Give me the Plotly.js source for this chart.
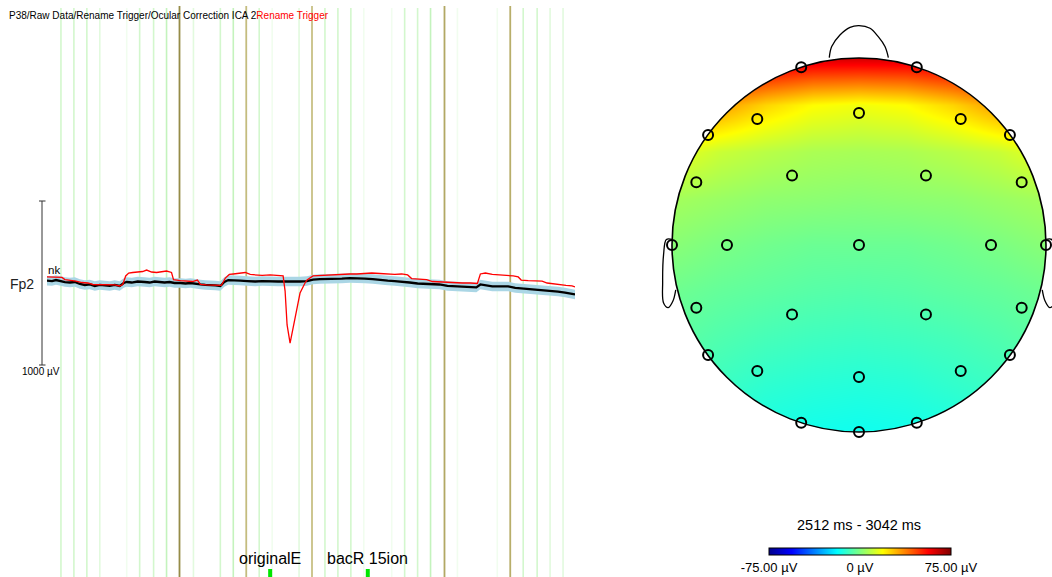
<!DOCTYPE html>
<html><head><meta charset="utf-8">
<script src="https://cdn.plot.ly/plotly-3.0.1.min.js"></script>
<style>html,body{margin:0;padding:0;background:#fff;overflow:hidden}#chart{width:1052px;height:577px}</style>
</head><body><div id="chart"></div>
<script>
// ---------- EEG segment (channel Fp2), time in ms, amplitude in µV ----------
const timeAvg = [2512,2517,2521,2525,2530,2535,2540,2545,2550,2555,2560,2565,2570,2575,2580,2585,2589,2592,2597,2603,2610,2615,2620,2625,2630,2635,2640,2646,2651,2656,2661,2666,2671,2676,2681,2686,2690,2694,2699,2706,2713,2721,2728,2736,2744,2751,2758,2766,2773,2779,2786,2793,2801,2808,2816,2823,2831,2839,2846,2854,2861,2868,2876,2884,2891,2899,2906,2914,2922,2929,2937,2943,2947,2952,2959,2967,2975,2982,2989,2997,3005,3012,3019,3025,3032,3037,3042];
const fp2Average = [14,12,18,12,6,3,6,-6,-12,-9,-18,-12,-15,-18,-12,-18,0,6,3,9,6,3,9,6,3,6,0,0,-3,0,-6,-9,-12,-12,-15,-18,6,18,18,15,12,9,12,9,9,9,7,9,12,21,24,24,27,27,30,30,27,24,18,15,12,9,3,-3,-6,-6,-9,-18,-21,-24,-27,-27,-9,-15,-21,-21,-21,-30,-33,-37,-40,-43,-49,-52,-58,-64,-70];
const fp2StdBand = 29;
const timeRed = [2512,2520,2527,2530,2537,2541,2547,2553,2558,2565,2573,2580,2585,2588,2591,2594,2598,2603,2608,2612,2617,2622,2627,2632,2637,2639,2646,2652,2658,2663,2666,2672,2678,2684,2687,2691,2695,2699,2706,2711,2716,2722,2728,2736,2743,2749,2751,2753,2756,2759,2763,2766,2771,2773,2779,2786,2793,2801,2808,2816,2823,2831,2838,2846,2854,2861,2868,2874,2878,2886,2893,2899,2906,2914,2922,2929,2937,2944,2947,2952,2959,2967,2974,2980,2985,2988,2995,3002,3009,3014,3020,3027,3033,3039,3042];
const fp2Trigger = [37,37,34,21,18,12,3,0,-9,-9,-12,-12,-18,-9,43,61,64,67,70,79,67,64,67,73,64,21,15,12,9,18,-9,-12,-15,-18,-15,30,52,55,61,64,52,49,46,49,46,43,-49,-256,-366,-275,-153,-61,0,18,43,46,46,49,52,55,55,58,61,58,55,52,55,49,27,24,21,9,6,3,0,0,0,-3,55,61,52,49,43,43,37,18,15,12,12,0,-6,-9,-15,-18,-24];
const scaleBarUV = 1000;

// time markers (vertical lines)
const minorMarkerTimes = [2526,2539,2552,2565,2592,2605,2619,2632,2659,2686,2699,2725,2738,2765,2791,2804,2817,2830,2858,2871,2884,2897,2924,2964,2990,3004,3017,3030];
const minorMarkerLevel = [3,3,3,2,1,3,3,4,2,3,4,3,1,2,3,3,3,1,1,3,3,4,1,1,3,3,2,2];
const majorMarkerTimes = [2645,2712,2778,2911,2977];
const majorMarkerColors = ['rgb(150,140,72)','rgb(196,188,126)','rgb(200,192,132)','rgb(178,168,100)','rgb(184,174,106)'];
const eventTimes = [2736,2834];
const eventLabels = ['originalE','bacR 15ion'];

// ---------- Topographic map ----------
const elecNames = ['Fp1','Fp2','Fz','F3','F4','F7','F8','FC1','FC2','FC5','FC6','T7','C3','Cz','C4','T8','CP5','CP1','CP2','CP6','P7','P3','Pz','P4','P8','O1','Oz','O2'];
const elecX = [-0.309,0.309,0,-0.544,0.544,-0.807,0.807,-0.358,0.358,-0.870,0.870,-1,-0.706,0,0.706,1,-0.870,-0.358,0.358,0.870,-0.807,-0.544,0,0.544,0.807,-0.309,0,0.309];
const elecY = [0.950,0.950,0.706,0.674,0.674,0.588,0.588,0.371,0.371,0.335,0.335,0,0,0,0,0,-0.335,-0.371,-0.371,-0.335,-0.588,-0.674,-0.706,-0.674,-0.588,-0.950,-1,-0.950];
const gridX = [-1,-0.75,-0.5,-0.25,0,0.25,0.5,0.75,1];
const gridY = [-1,-0.75,-0.5,-0.25,0,0.25,0.5,0.75,1];
const gridUV = [
  [-10,-13,-15,-16,-16.5,-16,-15,-13,-10.5],
  [-8,-10,-12,-13,-13.5,-13,-11.5,-10,-8],
  [-5,-7,-8.5,-9.5,-10,-9.5,-8.5,-7,-5],
  [-2.5,-4,-5,-6,-6.5,-6,-5,-4,-2.5],
  [1.5,-0.5,-2,-3,-3,-3,-2,-0.5,1.5],
  [5.5,4,2.5,2,1.5,2,2.5,4,5.5],
  [16,11,8.5,6.5,6,6.5,8.5,11,16],
  [46,34,25,19,17,19,25,34,46],
  [75,70,66,63,63,63,66,70,75]
];
const noseX = [-0.159,-0.146,-0.102,-0.048,0,0.059,0.103,0.139,0.157];
const noseY = [1.002,1.061,1.123,1.164,1.173,1.159,1.114,1.061,1.002];
const earX = [-0.998,-1.03,-1.045,-1.05,-1.045,-1.02,-0.995,-0.98];
const earY = [0.03,0.03,-0.05,-0.2,-0.31,-0.335,-0.30,-0.24];
const cbTickVals = [-75,0,75];
const cbTickText = ['-75.00 µV','0 µV','75.00 µV'];
const mapTitle = '2512 ms - 3042 ms';
const pathTitle = 'P38/Raw Data/Rename Trigger/Ocular Correction ICA 2';
const pathTitleRed = 'Rename Trigger';

// ---------- layout geometry ----------
const W = 1052, H = 577;
const FONT = 'Arial, "Liberation Sans", sans-serif';
const px = p => p / W;
const py = p => 1 - p / H;
const uvPerPx = scaleBarUV / 164;
const baseRow = 283;

const levelColor = {1:'rgb(241,253,239)',2:'rgb(226,250,222)',3:'rgb(211,247,205)',4:'rgb(196,243,189)'};

const shapes = [];
minorMarkerTimes.forEach((t,i) => shapes.push({type:'line',xref:'x',yref:'paper',x0:t,x1:t,y0:0,y1:py(8),layer:'below',line:{color:levelColor[minorMarkerLevel[i]],width:1.6}}));
majorMarkerTimes.forEach((t,i) => shapes.push({type:'line',xref:'x',yref:'paper',x0:t,x1:t,y0:0,y1:py(6),layer:'below',line:{color:majorMarkerColors[i],width:1.8}}));
eventTimes.forEach(t => shapes.push({type:'rect',xref:'x',yref:'paper',x0:t-2,x1:t+2,y0:0,y1:py(569),fillcolor:'rgb(0,230,0)',line:{width:0},layer:'above'}));
// scale bar
shapes.push({type:'line',xref:'paper',yref:'y',x0:px(42),x1:px(42),y0:-scaleBarUV/2,y1:scaleBarUV/2,line:{color:'#333',width:1}});
shapes.push({type:'line',xref:'paper',yref:'y',x0:px(39),x1:px(45.5),y0:scaleBarUV/2,y1:scaleBarUV/2,line:{color:'#333',width:1}});
shapes.push({type:'line',xref:'paper',yref:'y',x0:px(39),x1:px(45.5),y0:-scaleBarUV/2,y1:-scaleBarUV/2,line:{color:'#333',width:1}});
// head outline
shapes.push({type:'circle',xref:'x2',yref:'y2',x0:-1,x1:1,y0:-1,y1:1,line:{color:'#000',width:1.6},layer:'above'});

const upper = fp2Average.map(v => v + fp2StdBand);
const lower = fp2Average.map(v => v - fp2StdBand);

// mask outside the head
const maskX = [-1.4,1.2,1.2,-1.4,-1.4,null], maskY = [-1.9,-1.9,1.5,1.5,-1.9,null];
for (let i = 0; i <= 180; i++) { const a = -2*Math.PI*i/180; maskX.push(Math.cos(a)); maskY.push(Math.sin(a)); }

const traces = [
  {x:timeAvg,y:lower,type:'scatter',mode:'lines',line:{width:0},hoverinfo:'skip',xaxis:'x',yaxis:'y'},
  {x:timeAvg,y:upper,type:'scatter',mode:'lines',line:{width:0},fill:'tonexty',fillcolor:'rgb(170,214,229)',hoverinfo:'skip',xaxis:'x',yaxis:'y'},
  {x:timeAvg,y:fp2Average,type:'scatter',mode:'lines',line:{color:'#000',width:2.3},xaxis:'x',yaxis:'y'},
  {x:timeRed,y:fp2Trigger,type:'scatter',mode:'lines',line:{color:'#ff0000',width:1.3},xaxis:'x',yaxis:'y'},
  {x:gridX,y:gridY,z:gridUV,type:'heatmap',zsmooth:'best',zmin:-75,zmax:75,xaxis:'x2',yaxis:'y2',
   colorscale:[[0,'rgb(0,0,140)'],[0.125,'rgb(0,0,255)'],[0.375,'rgb(0,255,255)'],[0.625,'rgb(255,255,0)'],[0.875,'rgb(255,0,0)'],[1,'rgb(128,0,0)']],
   colorbar:{orientation:'h',x:px(860),xanchor:'center',y:py(547.5),yanchor:'top',yref:'paper',len:182,lenmode:'pixels',thickness:7,
     xpad:0,ypad:0,outlinewidth:1,outlinecolor:'#000',tickvals:cbTickVals,ticktext:cbTickText,ticks:'',ticklen:0,
     tickfont:{family:FONT,size:13,color:'#000'}}},
  {x:maskX,y:maskY,type:'scatter',mode:'lines',fill:'toself',fillcolor:'#fff',line:{width:0},xaxis:'x2',yaxis:'y2',hoverinfo:'skip'},
  {x:noseX,y:noseY,type:'scatter',mode:'lines',line:{color:'#000',width:1.3,shape:'spline'},xaxis:'x2',yaxis:'y2'},
  {x:earX,y:earY,type:'scatter',mode:'lines',line:{color:'#000',width:1.3,shape:'spline'},xaxis:'x2',yaxis:'y2'},
  {x:earX.map(v=>-v),y:earY,type:'scatter',mode:'lines',line:{color:'#000',width:1.3,shape:'spline'},xaxis:'x2',yaxis:'y2'},
  {x:elecX,y:elecY,text:elecNames,type:'scatter',mode:'markers',marker:{symbol:'circle-open',size:10,color:'#000',line:{width:2,color:'#000'}},xaxis:'x2',yaxis:'y2'}
];

const annotations = [
  {xref:'paper',yref:'paper',x:px(7),y:py(15),xanchor:'left',yanchor:'middle',showarrow:false,
   text:pathTitle+'<span style="color:#ff0000">'+pathTitleRed+'</span>',font:{family:FONT,size:10,color:'#000'}},
  {xref:'paper',yref:'paper',x:px(22),y:py(284),xanchor:'center',yanchor:'middle',showarrow:false,text:'Fp2',font:{family:FONT,size:14,color:'#222'}},
  {xref:'paper',yref:'paper',x:px(46),y:py(270),xanchor:'left',yanchor:'middle',showarrow:false,text:'nk',font:{family:FONT,size:11.5,color:'#000'}},
  {xref:'paper',yref:'paper',x:px(41),y:py(371),xanchor:'center',yanchor:'middle',showarrow:false,text:scaleBarUV+' µV',font:{family:FONT,size:10,color:'#000'}},
  {xref:'paper',yref:'paper',x:px(859),y:py(525),xanchor:'center',yanchor:'middle',showarrow:false,text:mapTitle,font:{family:FONT,size:14.5,color:'#000'}}
];
eventTimes.forEach((t,i) => annotations.push({xref:'x',yref:'paper',x:t,y:py(558),xanchor:'center',yanchor:'middle',showarrow:false,text:eventLabels[i],font:{family:FONT,size:16,color:'#000'}}));

const ax = {visible:false,showgrid:false,zeroline:false,fixedrange:true};
const layout = {
  width:W,height:H,margin:{l:0,r:0,t:0,b:0},paper_bgcolor:'#fff',plot_bgcolor:'rgba(0,0,0,0)',showlegend:false,hovermode:false,
  xaxis:Object.assign({},ax,{domain:[px(47),px(575)],range:[2512,3042]}),
  yaxis:Object.assign({},ax,{domain:[0,1],range:[-(H-baseRow)*uvPerPx, baseRow*uvPerPx]}),
  xaxis2:Object.assign({},ax,{domain:[px(640),1],range:[(640-859)/187,(1052-859)/187],anchor:'y2'}),
  yaxis2:Object.assign({},ax,{domain:[0,1],range:[(245-577)/187,245/187],anchor:'x2'}),
  shapes:shapes,annotations:annotations,font:{family:FONT}
};
Plotly.newPlot('chart',traces,layout,{staticPlot:true,displayModeBar:false});
</script></body></html>
